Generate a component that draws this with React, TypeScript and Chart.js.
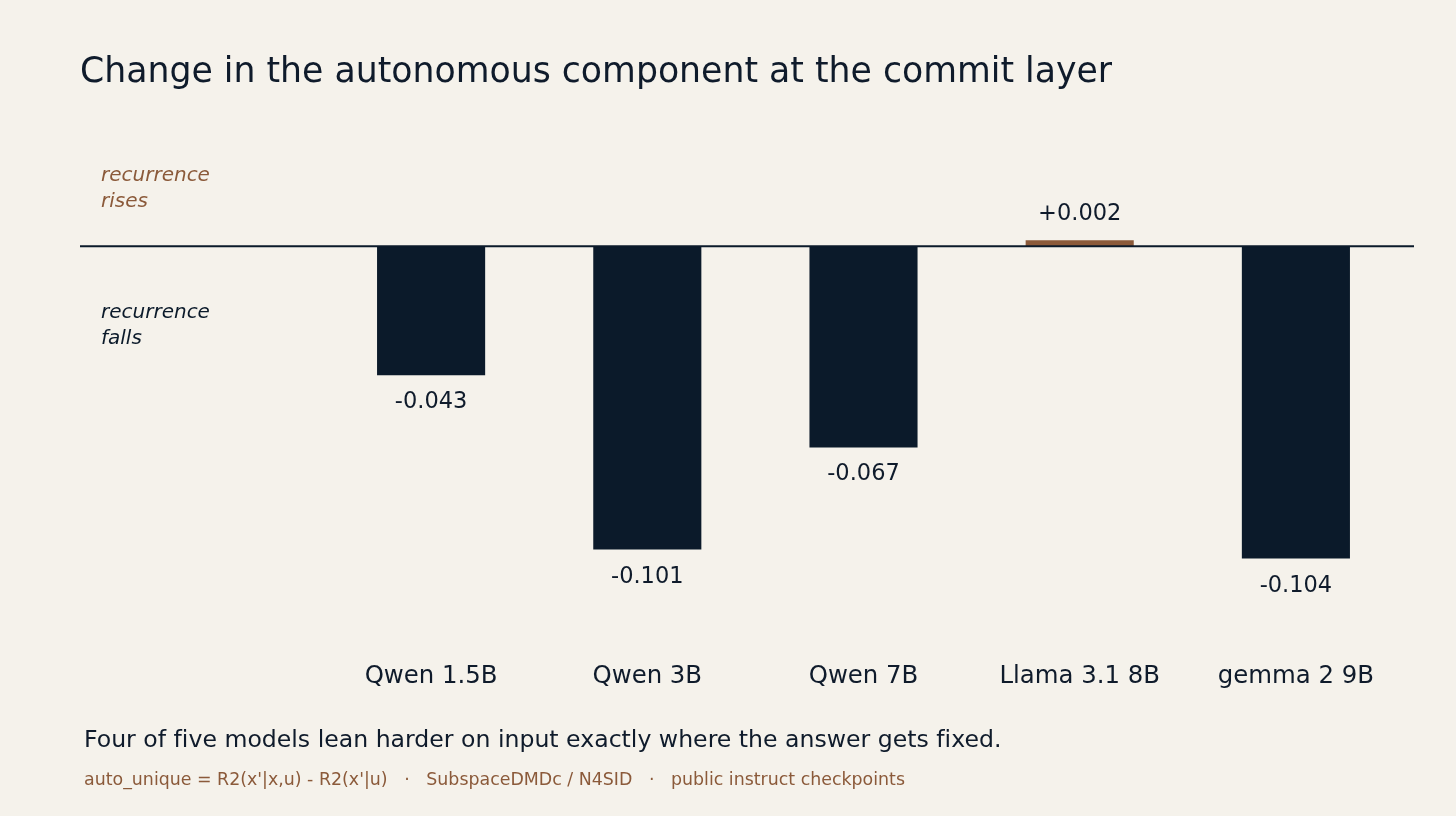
import { useEffect, useRef } from "react";
import { Chart, registerables } from "chart.js";

Chart.register(...registerables);

// values
const models = ["Qwen 1.5B", "Qwen 3B", "Qwen 7B", "Llama 3.1 8B", "gemma 2 9B"];
const autoUniqueDelta = [-0.043, -0.101, -0.067, 0.002, -0.104];

const BG = "#f5f2eb";
const NAVY = "#0b1a2a";
const BROWN = "#8b5a3a";
const INK = "#0f1b2b";
const FONT = "'DejaVu Sans', sans-serif";

const fmt = (v: number) => (v > 0 ? "+" : "") + v.toFixed(3);

const backgroundPlugin = {
  id: "bg",
  beforeDraw(chart: any) {
    const { ctx, width, height } = chart;
    ctx.save();
    ctx.fillStyle = BG;
    ctx.fillRect(0, 0, width, height);
    ctx.restore();
  },
};

const zeroLinePlugin = {
  id: "zeroLine",
  afterDatasetsDraw(chart: any) {
    const { ctx, chartArea, scales } = chart;
    const y0 = scales.y.getPixelForValue(0);
    const left = chartArea.left - 243;
    ctx.save();
    ctx.strokeStyle = NAVY;
    ctx.lineWidth = 2;
    ctx.beginPath();
    ctx.moveTo(left, y0);
    ctx.lineTo(chartArea.right + 10, y0);
    ctx.stroke();

    ctx.font = `italic 20px ${FONT}`;
    ctx.textAlign = "left";
    ctx.textBaseline = "alphabetic";
    const tx = left + 21;
    ctx.fillStyle = BROWN;
    ctx.fillText("recurrence", tx, y0 - 65);
    ctx.fillText("rises", tx, y0 - 39);
    ctx.fillStyle = NAVY;
    ctx.fillText("recurrence", tx, y0 + 72);
    ctx.fillText("falls", tx, y0 + 98);
    ctx.restore();
  },
};

const valueLabelPlugin = {
  id: "valueLabels",
  afterDatasetsDraw(chart: any) {
    const { ctx } = chart;
    const meta = chart.getDatasetMeta(0);
    ctx.save();
    ctx.font = `22.5px ${FONT}`;
    ctx.fillStyle = INK;
    ctx.textAlign = "center";
    ctx.textBaseline = "alphabetic";
    meta.data.forEach((bar: any, i: number) => {
      const v = autoUniqueDelta[i];
      const y = v < 0 ? bar.y + 33 : bar.y - 20;
      ctx.fillText(fmt(v), bar.x, y);
    });
    ctx.restore();
  },
};

function CommitLayerChart() {
  const canvasRef = useRef<HTMLCanvasElement>(null);

  useEffect(() => {
    if (!canvasRef.current) return;
    const chart = new Chart(canvasRef.current, {
      type: "bar",
      data: {
        labels: models,
        datasets: [
          {
            data: autoUniqueDelta,
            backgroundColor: autoUniqueDelta.map((v) => (v > 0 ? BROWN : NAVY)),
            barPercentage: 0.5,
            categoryPercentage: 1,
          },
        ],
      },
      options: {
        responsive: false,
        animation: false,
        layout: { padding: { left: 323, right: 52, top: 126, bottom: 100 } },
        plugins: {
          legend: { display: false },
          tooltip: { enabled: false },
          title: { display: false },
        },
        scales: {
          x: {
            type: "category",
            offset: true,
            grid: { display: false, drawTicks: false },
            border: { display: false },
            ticks: {
              color: INK,
              font: { family: FONT, size: 24.4 },
              padding: 25,
              maxRotation: 0,
              autoSkip: false,
            },
          },
          y: {
            display: false,
            min: -0.13,
            max: 0.04,
          },
        },
      } as any,
      plugins: [backgroundPlugin, zeroLinePlugin, valueLabelPlugin],
    });
    return () => chart.destroy();
  }, []);

  return <canvas ref={canvasRef} width={1456} height={816} style={{ display: "block" }} />;
}

export default function App() {
  return (
    <div
      style={{
        position: "absolute",
        left: 0,
        top: 0,
        width: 1456,
        height: 816,
        background: BG,
        fontFamily: FONT,
        fontVariantLigatures: "none",
      }}
    >
      <CommitLayerChart />
      <div style={{ position: "absolute", left: 80, top: 53, fontSize: 34.7, lineHeight: 1, color: INK, whiteSpace: "nowrap" }}>
        Change in the autonomous component at the commit layer
      </div>
      <div style={{ position: "absolute", left: 84, top: 728, fontSize: 23.6, lineHeight: 1, color: INK, whiteSpace: "nowrap" }}>
        Four of five models lean harder on input exactly where the answer gets fixed.
      </div>
      <div style={{ position: "absolute", left: 84, top: 771, fontSize: 17.4, lineHeight: 1, color: BROWN, whiteSpace: "pre" }}>
        {"auto_unique = R2(x'|x,u) - R2(x'|u)   ·   SubspaceDMDc / N4SID   ·   public instruct checkpoints"}
      </div>
    </div>
  );
}
